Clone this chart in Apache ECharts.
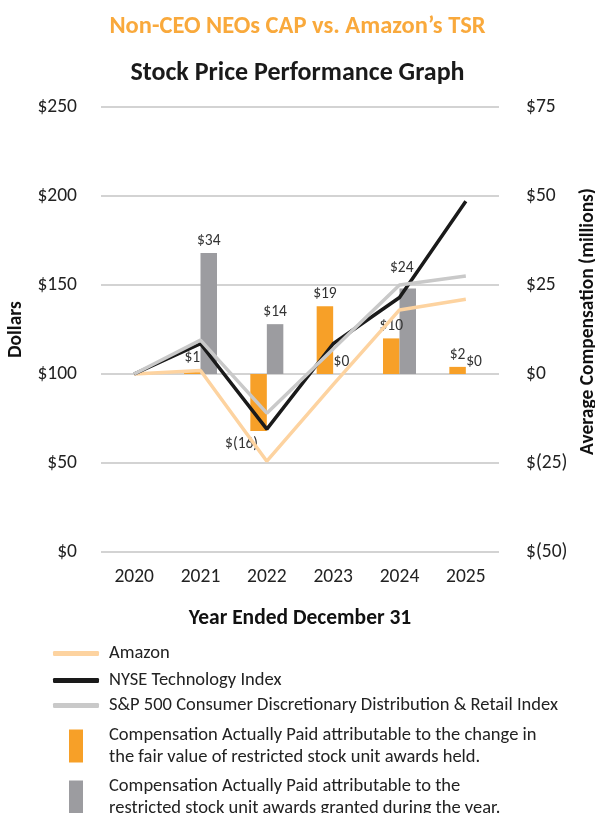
<!DOCTYPE html>
<html><head><meta charset="utf-8">
<script src="https://cdn.jsdelivr.net/npm/echarts@6/dist/echarts.min.js"></script>
<style>html,body{margin:0;padding:0;background:#fff}#c{width:595px;height:813px}</style>
</head><body><div id="c"></div>
<script>
const years = ['2020','2021','2022','2023','2024','2025'];
const amazon = [100, 102, 51, 94, 136, 142];
const nyseTech = [100, 117, 69, 117, 143, 197];
const spRetail = [100, 119, 78, 114, 150, 155];
const capFairValue = ['-', 1, -16, 19, 10, 2];
const capGranted = ['-', 34, 14, 0, 24, 0];
const leftTicks = {min: 0, max: 250, interval: 50};
const rightTicks = {min: -50, max: 75, interval: 25};

const F = 'Carlito, Lato, sans-serif';
const nAmazon = 'Amazon';
const nNyse = 'NYSE Technology Index';
const nSp = 'S&P 500 Consumer Discretionary Distribution & Retail Index';
const nFair = 'Compensation Actually Paid attributable to the change in the fair value of restricted stock unit awards held.';
const nGrant = 'Compensation Actually Paid attributable to the restricted stock unit awards granted during the year.';
const wrapped = {};
wrapped[nFair] = 'Compensation Actually Paid attributable to the change in\nthe fair value of restricted stock unit awards held.';
wrapped[nGrant] = 'Compensation Actually Paid attributable to the\nrestricted stock unit awards granted during the year.';

const money = v => v < 0 ? '$(' + (-v) + ')' : '$' + v;

// label nudges (layout only), keyed by category index
const fairLabelNudge = {2: {position: 'bottom', offset: [-17, 1]}};
const grantLabelNudge = {4: {offset: [-6, -8]}};

function barData(arr, nudge) {
  return arr.map((v, i) => {
    if (v === '-') return v;
    if (nudge[i]) return {value: v, label: nudge[i]};
    return v;
  });
}

const lineLegendBase = {
  orient: 'vertical', left: 53, padding: 0, itemWidth: 46, itemHeight: 5, icon: 'roundRect',
  textStyle: {fontFamily: F, fontSize: 18.5, color: '#222', padding: [0, 0, 0, 5]},
  selectedMode: false
};
const barLegendBase = {
  orient: 'vertical', left: 69, padding: 0, itemWidth: 14, itemHeight: 33, icon: 'rect',
  textStyle: {fontFamily: F, fontSize: 18.5, color: '#222', lineHeight: 22, padding: [0, 0, 0, 21]},
  formatter: n => wrapped[n] || n, selectedMode: false
};

const chart = echarts.init(document.getElementById('c'), null, {renderer: 'canvas'});
chart.setOption({
  animation: false,
  title: [
    {text: 'Non-CEO NEOs CAP vs. Amazon\u2019s TSR', left: 'center', top: 9,
     textStyle: {fontFamily: F, fontSize: 24.5, fontWeight: 'bold', color: '#F9A93C'}},
    {text: 'Stock Price Performance Graph', left: 'center', top: 55,
     textStyle: {fontFamily: F, fontSize: 26, fontWeight: 'bold', color: '#1a1a1a'}}
  ],
  legend: [
    Object.assign({}, lineLegendBase, {top: 644, data: [nAmazon]}),
    Object.assign({}, lineLegendBase, {top: 671, data: [nNyse]}),
    Object.assign({}, lineLegendBase, {top: 696, data: [nSp]}),
    Object.assign({}, barLegendBase, {top: 724, data: [nFair]}),
    Object.assign({}, barLegendBase, {top: 775, data: [nGrant]})
  ],
  grid: {left: 101, right: 96, top: 107, bottom: 261, outerBoundsMode: 'none', containLabel: false},
  xAxis: {
    type: 'category', data: years, boundaryGap: true,
    axisLine: {show: false}, axisTick: {show: false},
    axisLabel: {fontFamily: F, fontSize: 19.5, color: '#222', margin: 15},
    name: 'Year Ended December 31', nameLocation: 'middle', nameGap: 56,
    nameTextStyle: {fontFamily: F, fontSize: 21.5, fontWeight: 'bold', color: '#111'}
  },
  yAxis: [
    {type: 'value', min: leftTicks.min, max: leftTicks.max, interval: leftTicks.interval,
     axisLine: {show: false}, axisTick: {show: false},
     splitLine: {lineStyle: {color: '#C4C4C4', width: 1.5}},
     axisLabel: {fontFamily: F, fontSize: 19.5, color: '#222', margin: 24, formatter: v => '$' + v},
     name: 'Dollars', nameLocation: 'middle', nameGap: 73, nameRotate: 90,
     nameTextStyle: {fontFamily: F, fontSize: 19.5, fontWeight: 'bold', color: '#111'}},
    {type: 'value', min: rightTicks.min, max: rightTicks.max, interval: rightTicks.interval,
     axisLine: {show: false}, axisTick: {show: false}, splitLine: {show: false},
     axisLabel: {fontFamily: F, fontSize: 19.5, color: '#222', margin: 27, formatter: money},
     name: 'Average Compensation (millions)', nameLocation: 'middle', nameGap: 77, nameRotate: 90,
     nameTextStyle: {fontFamily: F, fontSize: 19.5, fontWeight: 'bold', color: '#111', padding: [0, 0, 0, 16]}}
  ],
  series: [
    {name: nFair, type: 'bar', yAxisIndex: 1, data: barData(capFairValue, fairLabelNudge), barWidth: 16.5, barGap: '0%',
     itemStyle: {color: '#F7A028'},
     label: {show: true, position: 'top', distance: 4, fontFamily: F, fontSize: 15.5, color: '#333',
             formatter: p => money(p.value)}},
    {name: nGrant, type: 'bar', yAxisIndex: 1, data: barData(capGranted, grantLabelNudge), barWidth: 16.5, barGap: '0%',
     itemStyle: {color: '#9C9CA0'},
     label: {show: true, position: 'top', distance: 4, fontFamily: F, fontSize: 15.5, color: '#333',
             formatter: p => money(p.value)}},
    {name: nAmazon, type: 'line', data: amazon, symbol: 'none', z: 3,
     lineStyle: {color: '#FDD3A0', width: 3.5}, itemStyle: {color: '#FDD3A0'}},
    {name: nNyse, type: 'line', data: nyseTech, symbol: 'none', z: 4,
     lineStyle: {color: '#1a1a1a', width: 3.5}, itemStyle: {color: '#1a1a1a'}},
    {name: nSp, type: 'line', data: spRetail, symbol: 'none', z: 5,
     lineStyle: {color: '#C9C9C9', width: 3.5}, itemStyle: {color: '#C9C9C9'}}
  ]
});
</script>
</body></html>
